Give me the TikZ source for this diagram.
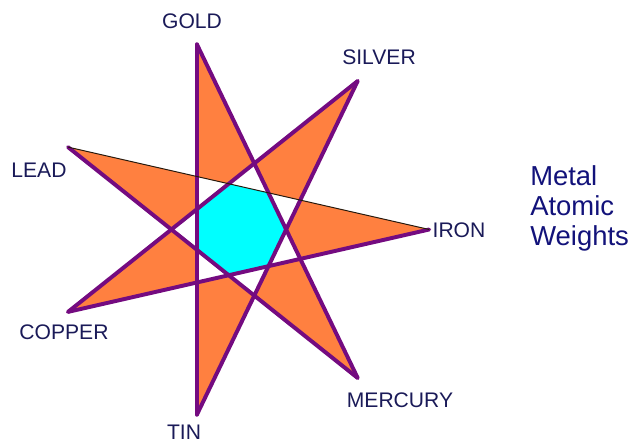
\documentclass[tikz,border=0pt]{standalone}
\usepackage{fontspec}
\setmainfont{Liberation Sans}
\usetikzlibrary{calc,positioning}
\definecolor{StarPurple}{HTML}{740B80}
\definecolor{StarOrange}{HTML}{FF8040}
\definecolor{StarCyan}{HTML}{00FFFF}
\definecolor{MetalNavy}{HTML}{1A1A58}
\definecolor{TitleNavy}{HTML}{12127A}
\tikzset{
  starline/.style={StarPurple,line width=2.8pt,line cap=round},
  thinline/.style={black!80!brown,line width=0.7pt},
  metal/.style={font=\fontsize{15}{17}\selectfont,text=MetalNavy,inner sep=0pt},
  title/.style={font=\fontsize{19.5}{21.4}\selectfont,text=TitleNavy,inner sep=0pt,align=left}
}

\begin{document}
\begin{tikzpicture}[x=0.025cm,y=-0.025cm]
  \path[use as bounding box] (0,0) rectangle (633,444);

  % heptagram {7/3} corners
  \coordinate (c) at (239.2,229.5);
  \coordinate (iron) at (429.2,229.5);
  \coordinate (silver) at (357.7,81.0);
  \coordinate (gold) at (196.9,44.3);
  \coordinate (lead) at (68.0,147.1);
  \coordinate (copper) at (68.0,311.9);
  \coordinate (tin) at (196.9,414.7);
  \coordinate (mercury) at (357.7,378.0);

  \fill[StarOrange,even odd rule] (gold) -- (mercury) -- (lead) -- (iron)
    -- (copper) -- (silver) -- (tin) -- cycle;
  \fill[StarCyan] ($(c)!0.247!(gold)$) -- ($(c)!0.247!(silver)$)
    -- ($(c)!0.247!(iron)$) -- ($(c)!0.247!(mercury)$) -- ($(c)!0.247!(tin)$)
    -- ($(c)!0.247!(copper)$) -- ($(c)!0.247!(lead)$) -- cycle;

  \foreach \a/\b in {gold/mercury,mercury/lead,iron/copper,copper/silver,silver/tin,tin/gold}{
    \draw[starline] (\a) -- (\b);
  }
  \draw[thinline] (lead) -- (iron);

  \node[metal] (goldlabel) at (192,21) {GOLD};
  \node[metal] (silverlabel) at (379,57.5) {SILVER};
  \node[metal] (leadlabel) at (39,170) {LEAD};
  \node[metal] (ironlabel) at (459,230) {IRON};
  \node[metal] (copperlabel) at (64,332) {COPPER};
  \node[metal] (tinlabel) at (184,432) {TIN};
  \node[metal] (mercurylabel) at (400,400) {MERCURY};

  \node[title,anchor=north west] (heading) at (530,165) {Metal\\Atomic\\Weights};
\end{tikzpicture}
\end{document}
